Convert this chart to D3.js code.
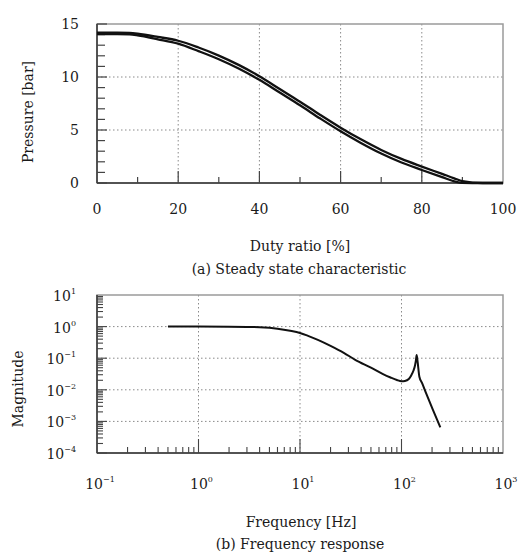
<!DOCTYPE html>
<html><head><meta charset="utf-8">
<script src="https://cdn.jsdelivr.net/npm/d3@7"></script>
<style>
body{margin:0;background:#fff;}
text{font-family:"DejaVu Serif",serif;fill:#1a1a1a;}
</style></head>
<body><svg id="c" width="518" height="554"></svg>
<script>
// ---- data (a) steady state ----
const dutyRatio = [0, 5, 8, 10, 15, 20, 25, 30, 35, 40, 45, 50, 55, 60, 65, 70, 75, 80, 85, 88, 90, 95, 100];
const pressureUp = [14.18, 14.18, 14.15, 14.08, 13.78, 13.42, 12.78, 12.02, 11.12, 10.07, 8.87, 7.67, 6.42, 5.22, 4.12, 3.12, 2.27, 1.55, 0.86, 0.44, 0.18, 0, 0];
const pressureDown = [14.05, 14.05, 14.02, 13.93, 13.56, 13.14, 12.44, 11.68, 10.78, 9.73, 8.53, 7.33, 6.08, 4.88, 3.78, 2.78, 1.93, 1.23, 0.55, 0.16, 0.02, 0, 0];
const xTicksA = [0, 20, 40, 60, 80, 100];
const yTicksA = [0, 5, 10, 15];
// ---- data (b) frequency response ----
const freq = [0.5, 1, 2, 3, 4, 6, 8, 10, 12, 15, 20, 27, 35, 50, 65, 78, 90, 100, 108, 118, 125, 131, 136, 139, 141, 144, 150, 160, 175, 204, 241];
const magnitude = [1.0, 1.0, 0.99, 0.977, 0.955, 0.86, 0.74, 0.63, 0.51, 0.38, 0.245, 0.148, 0.089, 0.05, 0.032, 0.0245, 0.0204, 0.0186, 0.019, 0.022, 0.029, 0.04, 0.06, 0.09, 0.126, 0.08, 0.026, 0.016, 0.0077, 0.0023, 0.00065];
const xExpB = [-1, 0, 1, 2, 3];
const yExpB = [1, 0, -1, -2, -3, -4];

const svg = d3.select("#c");
const L = 97, R = 503;

function frame(g, top, bottom){
  g.append("rect").attr("x",L).attr("y",top).attr("width",R-L).attr("height",bottom-top)
    .attr("fill","none").attr("stroke","#9a9a9a").attr("stroke-width",1.5);
  g.append("line").attr("x1",L).attr("x2",L).attr("y1",top).attr("y2",bottom).attr("stroke","#333").attr("stroke-width",1.5);
  g.append("line").attr("x1",L).attr("x2",R).attr("y1",bottom).attr("y2",bottom).attr("stroke","#333").attr("stroke-width",1.5);
}
const gridStyle = s => s.attr("stroke","#8a8a8a").attr("stroke-width",1).attr("stroke-dasharray","1.5,2.5");

// ===== chart (a) =====
const xA = d3.scaleLinear().domain([0,100]).range([L,R]);
const yA = d3.scaleLinear().domain([0,15]).range([183,24]);
const gA = svg.append("g");
[20,40,60,80].forEach(v=> gridStyle(gA.append("line").attr("x1",xA(v)).attr("x2",xA(v)).attr("y1",yA(15)).attr("y2",yA(0))));
[5,10].forEach(v=> gridStyle(gA.append("line").attr("x1",L).attr("x2",R).attr("y1",yA(v)).attr("y2",yA(v))));
frame(gA, yA(15), yA(0));
d3.range(0,16).forEach(v=>{
  const len = (v%5===0)?10:8;
  gA.append("line").attr("x1",L).attr("x2",L+len).attr("y1",yA(v)).attr("y2",yA(v)).attr("stroke","#444").attr("stroke-width",1.2);
});
d3.range(10,100,10).forEach(v=>{
  const len = (v%20===0)?12:6;
  gA.append("line").attr("x1",xA(v)).attr("x2",xA(v)).attr("y1",yA(0)).attr("y2",yA(0)-len).attr("stroke","#444").attr("stroke-width",1.2);
});
yTicksA.forEach(v=> gA.append("text").attr("x",79).attr("y",yA(v)+5).attr("text-anchor","end").attr("font-size",14).text(v));
xTicksA.forEach(v=> gA.append("text").attr("x",xA(v)).attr("y",214).attr("text-anchor","middle").attr("font-size",14).text(v));
const lineA = d3.line().x((d,i)=>xA(dutyRatio[i])).y(d=>yA(d)).curve(d3.curveMonotoneX);
[pressureUp, pressureDown].forEach(arr=>
  gA.append("path").attr("d",lineA(arr)).attr("fill","none").attr("stroke","#111").attr("stroke-width",2.3));
gA.append("text").attr("transform","translate(33,112) rotate(-90)").attr("text-anchor","middle").attr("font-size",14).text("Pressure [bar]");
gA.append("text").attr("x",300).attr("y",251).attr("text-anchor","middle").attr("font-size",14).text("Duty ratio [%]");
gA.append("text").attr("x",299).attr("y",274).attr("text-anchor","middle").attr("font-size",14).text("(a) Steady state characteristic");

// ===== chart (b) =====
const xB = d3.scaleLog().domain([0.1,1000]).range([L,R]);
const yB = d3.scaleLog().domain([1e-4,10]).range([453,295]);
const gB = svg.append("g");
[1,10,100].forEach(v=> gridStyle(gB.append("line").attr("x1",xB(v)).attr("x2",xB(v)).attr("y1",yB(10)).attr("y2",yB(1e-4))));
[1,0.1,0.01,0.001].forEach(v=> gridStyle(gB.append("line").attr("x1",L).attr("x2",R).attr("y1",yB(v)).attr("y2",yB(v))));
frame(gB, yB(10), yB(1e-4));
yExpB.slice(1).forEach(e=>{
  for(let k=1;k<10;k++){
    const v = k*Math.pow(10,e);
    const len = k===1?10:6;
    gB.append("line").attr("x1",L).attr("x2",L+len).attr("y1",yB(v)).attr("y2",yB(v)).attr("stroke","#444").attr("stroke-width",1.1);
  }
});
xExpB.slice(0,4).forEach(e=>{
  for(let k=1;k<10;k++){
    const v = k*Math.pow(10,e);
    if(k===1 && e===-1) continue;
    const len = k===1?14:6;
    gB.append("line").attr("x1",xB(v)).attr("x2",xB(v)).attr("y1",yB(1e-4)).attr("y2",yB(1e-4)-len).attr("stroke","#444").attr("stroke-width",1.1);
  }
});
function powLabel(g, x, y, e, anchor){
  const t = g.append("text").attr("x",x).attr("y",y).attr("text-anchor",anchor).attr("font-size",14);
  t.append("tspan").text("10");
  t.append("tspan").attr("dy",-7).attr("font-size",8).text(e<0 ? "\u2212"+(-e) : String(e));
}
xExpB.forEach(e=> powLabel(gB, xB(Math.pow(10,e))+3, 489, e, "middle"));
yExpB.forEach(e=> powLabel(gB, 76, yB(Math.pow(10,e))+6, e, "end"));
const lineB = d3.line().x((d,i)=>xB(freq[i])).y(d=>yB(d)).curve(d3.curveMonotoneX);
gB.append("path").attr("d",lineB(magnitude)).attr("fill","none").attr("stroke","#111").attr("stroke-width",2);
gB.append("text").attr("transform","translate(23,389) rotate(-90)").attr("text-anchor","middle").attr("font-size",14).text("Magnitude");
gB.append("text").attr("x",301).attr("y",527).attr("text-anchor","middle").attr("font-size",14).text("Frequency [Hz]");
gB.append("text").attr("x",300).attr("y",549).attr("text-anchor","middle").attr("font-size",14).text("(b) Frequency response");
</script></body></html>
